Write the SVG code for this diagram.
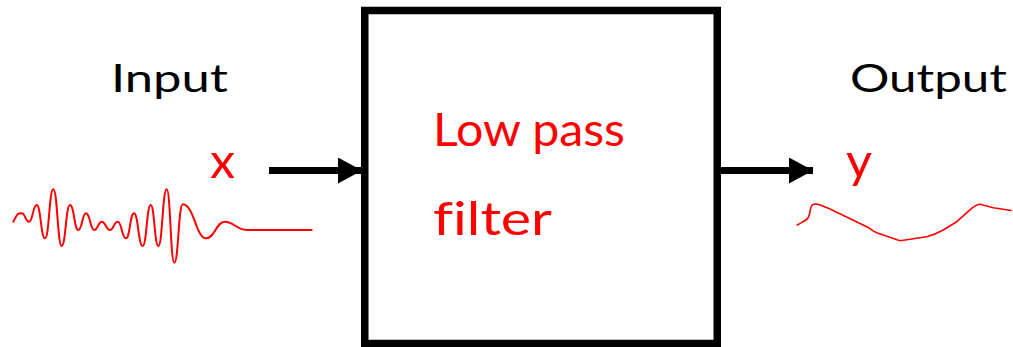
<svg xmlns="http://www.w3.org/2000/svg" width="1013" height="347" viewBox="0 0 1013 347">
<style>
.lbl{font-family:"Comic Sans MS","Lato","Liberation Sans",sans-serif;fill:#000;font-variant-ligatures:none}
.red{font-family:"Comic Sans MS","Lato","Liberation Sans",sans-serif;fill:#ff0000;font-variant-ligatures:none}
.wave{fill:none;stroke:#ff0000;stroke-linecap:round;stroke-linejoin:round}
.conn{stroke:#000;stroke-width:7;fill:none}
</style>
<defs>
<marker id="ah" markerUnits="userSpaceOnUse" markerWidth="24" markerHeight="26" refX="24" refY="13" orient="auto">
<path d="M0,0 L24,13 L0,26 Z" fill="#000"/>
</marker>
</defs>
<rect width="1013" height="347" fill="#fff"/>
<g id="filter">
<rect x="364.75" y="10.5" width="352.5" height="333" fill="#fff" stroke="#000" stroke-width="7.5"/>
<text class="red" x="433" y="146" font-size="47" textLength="192" lengthAdjust="spacingAndGlyphs">Low pass</text>
<text class="red" x="433" y="235" font-size="47" textLength="119" lengthAdjust="spacingAndGlyphs">filter</text>
</g>
<g id="input">
<text class="lbl" x="111" y="92" font-size="39" textLength="117" lengthAdjust="spacingAndGlyphs">Input</text>
<text class="red" x="210" y="178" font-size="49" textLength="25" lengthAdjust="spacingAndGlyphs">x</text>
<path class="wave" stroke-width="2" d="M13.3,221.7 C17.5,213.3 17.5,213.3 21.7,213.3 C25.4,213.3 25.4,221.7 29,221.7 C32.8,221.7 32.8,205 36.7,205 C40.8,205 40.8,238.3 45,238.3 C49.2,238.3 49.2,189.3 53.3,189.3 C57.5,189.3 57.5,246 61.7,246 C65.8,246 65.8,205 70,205 C74.2,205 74.2,230 78.3,230 C82.2,230 82.2,213.3 86,213.3 C90.2,213.3 90.2,230 94.3,230 C98,230 98,221.7 101.7,221.7 C105.8,221.7 105.8,230 110,230 C113.8,230 113.8,221.7 117.7,221.7 C121.8,221.7 121.8,238.3 126,238.3 C130,238.3 130,213.3 134,213.3 C138.3,213.3 138.3,246 142.7,246 C146.7,246 146.7,205 150.7,205 C154.5,205 154.5,246 158.3,246 C162.5,246 162.5,189.3 166.7,189.3 C170.5,189.3 170.5,262.7 174.3,262.7 C178.5,262.7 178.5,204.3 182.7,204.3 C194,204.3 196,238.3 206,238.3 C215,238.3 216,221.7 225,221.7 C234,221.7 236,230 247,230 L311.7,230"/>
</g>
<g id="output">
<text class="lbl" x="850" y="92" font-size="39" textLength="157" lengthAdjust="spacingAndGlyphs">Output</text>
<text class="red" x="846" y="178" font-size="49" textLength="26" lengthAdjust="spacingAndGlyphs">y</text>
<path class="wave" stroke-width="1.6" d="M797.3,225 C803,221.5 806.5,220.5 808.3,217.5 C811,212 809.5,206 813,204.5 C815,203.5 817,204 819,204.6 L830,209 L866.7,226.7 C870,229 873,231 876.7,232.7 L900,240.7 L926.7,236.7 C933,235 938,233 943.3,230 C948,227 952,224.5 956.7,221.7 L971.7,208.3 C975,206 977,204.5 980,204.3 L993.3,207.7 L1011,210.5"/>
</g>
<g id="connectors">
<line class="conn" x1="269" y1="170.5" x2="362" y2="170.5" marker-end="url(#ah)"/>
<line class="conn" x1="717" y1="170.5" x2="813" y2="170.5" marker-end="url(#ah)"/>
</g>
</svg>
